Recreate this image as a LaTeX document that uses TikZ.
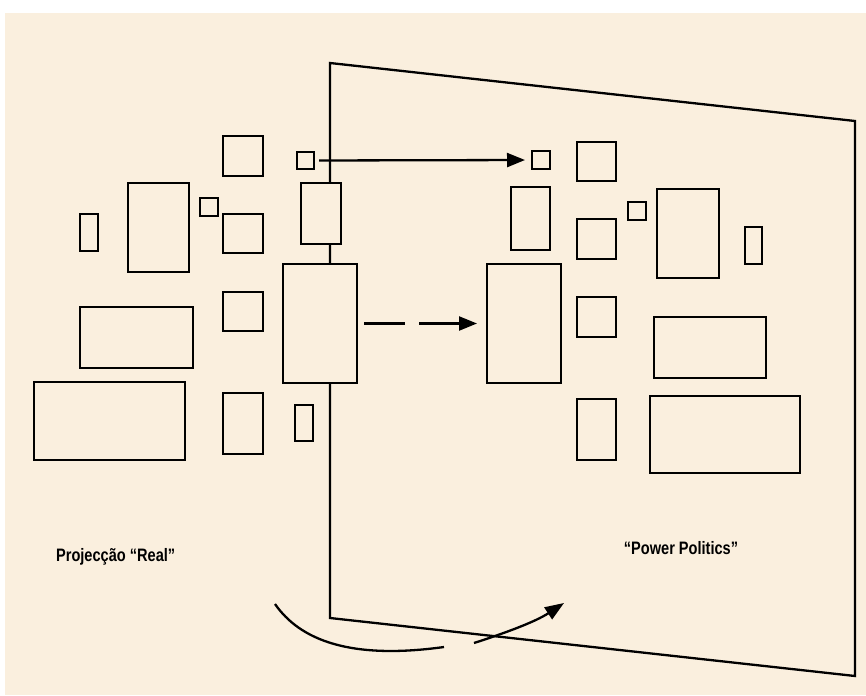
\documentclass[tikz,border=0pt]{standalone}
\usepackage{fontspec}
\setmainfont{Liberation Sans}[FakeStretch=0.81]
\usetikzlibrary{arrows.meta}
\definecolor{paper}{RGB}{250,239,222}
\tikzset{
  blk/.style={draw=black, fill=paper, line width=2.3pt, inner sep=0pt, outer sep=0pt},
  edge/.style={line width=2.3pt, line join=miter},
  conn/.style={line width=2.3pt, -{Triangle[length=18pt,width=14pt]}},
  lbl/.style={font=\bfseries\fontsize{18}{20}\selectfont, anchor=base, inner sep=0pt}
}
\begin{document}
\begin{tikzpicture}[x=1pt, y=-1pt]
\useasboundingbox (0,0) rectangle (866,695);
\fill[paper] (5,13) rectangle (866,695);

% the projection plane
\coordinate (p1) at (330,63);
\coordinate (p2) at (855,121);
\coordinate (p3) at (855,676);
\coordinate (p4) at (330,618);
\draw[edge] (p1) -- (p2) -- (p3) -- (p4) -- cycle;

% left cluster
\node[blk, minimum width=40pt, minimum height=40pt] (L1) at (243,156) {};
\node[blk, minimum width=17pt, minimum height=17pt] (L2) at (305.5,160.5) {};
\node[blk, minimum width=61pt, minimum height=89pt] (L3) at (158.5,227.5) {};
\node[blk, minimum width=18pt, minimum height=18pt] (L4) at (209,207) {};
\node[blk, minimum width=18pt, minimum height=37pt] (L5) at (89,232.5) {};
\node[blk, minimum width=40pt, minimum height=39pt] (L6) at (243,233.5) {};
\node[blk, minimum width=40pt, minimum height=61pt] (L7) at (321,213.5) {};
\node[blk, minimum width=74pt, minimum height=119pt] (L8) at (320,323.5) {};
\node[blk, minimum width=40pt, minimum height=39pt] (L9) at (243,311.5) {};
\node[blk, minimum width=113pt, minimum height=61pt] (L10) at (136.5,337.5) {};
\node[blk, minimum width=151pt, minimum height=78pt] (L11) at (109.5,421) {};
\node[blk, minimum width=40pt, minimum height=61pt] (L12) at (243,423.5) {};
\node[blk, minimum width=18pt, minimum height=36pt] (L13) at (304,423) {};

% right cluster
\node[blk, minimum width=18pt, minimum height=18pt] (R1) at (541,160) {};
\node[blk, minimum width=39pt, minimum height=39pt] (R2) at (596.5,161.5) {};
\node[blk, minimum width=39pt, minimum height=63pt] (R3) at (530.5,218.5) {};
\node[blk, minimum width=39pt, minimum height=40pt] (R4) at (596.5,239) {};
\node[blk, minimum width=18pt, minimum height=18pt] (R5) at (637,211) {};
\node[blk, minimum width=62pt, minimum height=89pt] (R6) at (688,233.5) {};
\node[blk, minimum width=17pt, minimum height=37pt] (R7) at (753.5,245.5) {};
\node[blk, minimum width=74pt, minimum height=119pt] (R8) at (524,323.5) {};
\node[blk, minimum width=39pt, minimum height=40pt] (R9) at (596.5,317) {};
\node[blk, minimum width=112pt, minimum height=61pt] (R10) at (710,347.5) {};
\node[blk, minimum width=39pt, minimum height=61pt] (R11) at (596.5,429.5) {};
\node[blk, minimum width=150pt, minimum height=77pt] (R12) at (725,434.5) {};

% mappings between the two views
\draw[conn, shorten <=5pt, shorten >=7pt] (L2.east) -- (R1.west);
\draw[conn, dash pattern=on 41pt off 14pt, shorten <=7pt, shorten >=10pt] (L8.east) -- (R8.west);

% rotation arrow under the plane
\coordinate (a1) at (275,604);
\coordinate (a2) at (444,647);
\coordinate (b1) at (474,643);
\coordinate (b2) at (564,603);
\draw[line width=2.3pt] (a1) .. controls (300,640) and (350,660) .. (a2);
\draw[conn, -{Triangle[length=19pt,width=14pt]}] (b1) .. controls (505,633) and (535,622) .. (b2);

% captions
\node[lbl] (capL) at (115.7,561.3) {Projecção “Real”};
\node[lbl] (capR) at (681,554.3) {“Power Politics”};
\end{tikzpicture}
\end{document}
